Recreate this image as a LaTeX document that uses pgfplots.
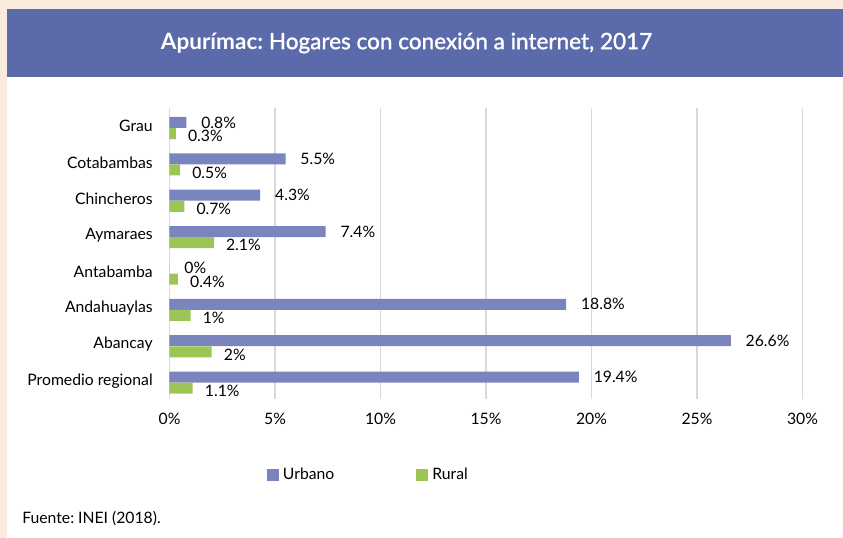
\documentclass[border=0pt]{standalone}
\usepackage{fontspec}
\setmainfont{Lato}
\newfontfamily\latosb[FakeBold=1.4]{Lato}
\usepackage{pgfplots}
\pgfplotsset{compat=1.18}

\definecolor{beige}{RGB}{250,235,220}
\definecolor{titlebar}{RGB}{90,106,170}
\definecolor{urbano}{RGB}{122,133,190}
\definecolor{rural}{RGB}{157,197,86}
\definecolor{gridc}{RGB}{217,217,217}

\pgfplotsset{/pgf/number format/assume math mode=true}
\frenchspacing

\begin{document}
\begin{tikzpicture}
  % background: 843x538 px at 0.75pt per px
  \fill[beige] (0,0) rectangle (632.25pt,-403.5pt);
  \useasboundingbox (0,0) rectangle (632.25pt,-403.5pt);
  \fill[white] (5.25pt,-6.75pt) rectangle (632.25pt,-403.5pt);
  \fill[titlebar] (5.25pt,-6.75pt) rectangle (632.25pt,-57.75pt);
  \node[text=white, font=\fontsize{16.9}{20}\selectfont] at (304.9pt,-32.25pt)
    {\textbf{Apurímac:} {\latosb Hogares con conexión a internet, 2017}};

  \begin{axis}[
    at={(127.125pt,-81pt)}, anchor=north west,
    scale only axis, width=474.75pt, height=218.25pt,
    xbar=0pt, bar width=8.25pt,
    xmin=0, xmax=30,
    ymin=-0.5, ymax=7.5, y dir=reverse,
    xtick={0,5,...,30},
    xticklabel={\pgfmathprintnumber{\tick}\%},
    ytick={0,...,7},
    yticklabels={Grau,Cotabambas,Chincheros,Aymaraes,Antabamba,Andahuaylas,Abancay,Promedio regional},
    axis line style={draw=none},
    major tick length=0pt,
    xmajorgrids, major grid style={gridc, line width=1pt},
    ticklabel style={font=\fontsize{11.8}{14}\selectfont, inner sep=0pt},
    xticklabel style={yshift=-10.5pt},
    yticklabel style={xshift=-12.4pt},
    clip=false,
    legend columns=-1,
    legend style={at={(0.154,-0.261)}, anchor=west, draw=none, fill=none,
      inner sep=0pt, outer sep=0pt,
      font=\fontsize{11.8}{14}\selectfont,
      nodes={inner sep=0pt},
      /tikz/every odd column/.append style={column sep=3pt},
      /tikz/every even column/.append style={column sep=61.5pt}},
    legend image code/.code={\fill[#1] (0pt,-4.5pt) rectangle (9pt,4.5pt);},
    nodes near coords={\pgfmathprintnumber{\pgfplotspointmeta}\%},
    point meta=x,
    every node near coord/.append style={font=\fontsize{11.8}{14}\selectfont,
      inner sep=0pt, anchor=west, text=black},
  ]
    \addplot[fill=urbano, draw=none, bar shift=2.8pt,
      every node near coord/.append style={xshift=11pt, yshift=0pt}]
      coordinates {(0.8,0) (5.5,1) (4.3,2) (7.4,3) (0,4) (18.8,5) (26.6,6) (19.4,7)};
    \addlegendentry{Urbano}
    \addplot[fill=rural, draw=none, bar shift=-5.5pt,
      every node near coord/.append style={xshift=9pt, yshift=-2pt}]
      coordinates {(0.3,0) (0.5,1) (0.7,2) (2.1,3) (0.4,4) (1,5) (2,6) (1.1,7)};
    \addlegendentry{Rural}
  \end{axis}

  \node[anchor=base west, inner sep=0pt, font=\fontsize{11.8}{14}\selectfont]
    at (16.5pt,-392.5pt) {Fuente: INEI (2018).};
\end{tikzpicture}
\end{document}
